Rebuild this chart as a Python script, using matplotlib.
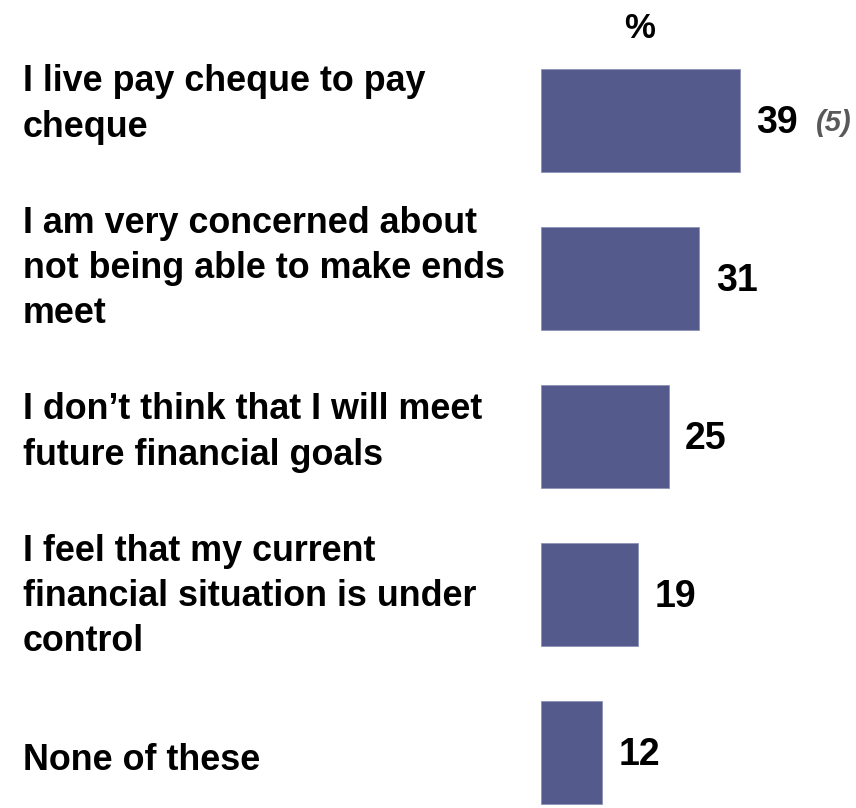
# Horizontal bar chart: share agreeing with each money-worry statement

import matplotlib
matplotlib.use('Agg')
import matplotlib.pyplot as plt

# Data
statements = [
    'I live pay cheque to pay\ncheque',
    'I am very concerned about\nnot being able to make ends\nmeet',
    'I don\u2019t think that I will meet\nfuture financial goals',
    'I feel that my current\nfinancial situation is under\ncontrol',
    'None of these',
]
percent = [39, 31, 25, 19, 12]
notes = ['(5)', '', '', '', '']

# Style
bar_color = '#545B8C'
note_color = '#595959'
plt.rcParams['font.family'] = ['Liberation Sans', 'DejaVu Sans']

W, H = 856, 808
fig = plt.figure(figsize=(W / 100, H / 100), dpi=100)

# axes start at the bar baseline; 5.1 px per percentage point
bar_left = 541
px_per_unit = 5.1
row_step = 158
first_row = 120.5
ax = fig.add_axes([bar_left / W, 0, 1 - bar_left / W, 1])
ax.set_xlim(0, (W - bar_left) / px_per_unit)
ax.set_ylim((H - first_row) / row_step, -first_row / row_step)
ax.axis('off')

rows = list(range(len(percent)))
ax.barh(rows, percent, height=103 / row_step, color=bar_color,
        edgecolor='#8E93B8', linewidth=0.6)

for r, v, note in zip(rows, percent, notes):
    ax.annotate(str(v), (v, r), xytext=(12, -2), textcoords='offset points',
                ha='left', va='center', fontsize=27, fontweight='bold')
    if note:
        ax.annotate(note, (v, r), xytext=(55, -1.5), textcoords='offset points',
                    ha='left', va='center', fontsize=21, fontweight='bold',
                    fontstyle='italic', color=note_color)

# statement text boxes sit on their own slightly wider grid (px from top)
label_top = 104.5
label_step = 164
for i, s in enumerate(statements):
    fig.text(23 / W, 1 - (label_top + label_step * i) / H, s,
             ha='left', va='center', fontsize=25.8, fontweight='bold',
             linespacing=1.38)

fig.text(640 / W, 1 - 29 / H, '%', ha='center', va='center',
         fontsize=25, fontweight='bold')

fig.savefig('out.png', dpi=100, facecolor='white')
